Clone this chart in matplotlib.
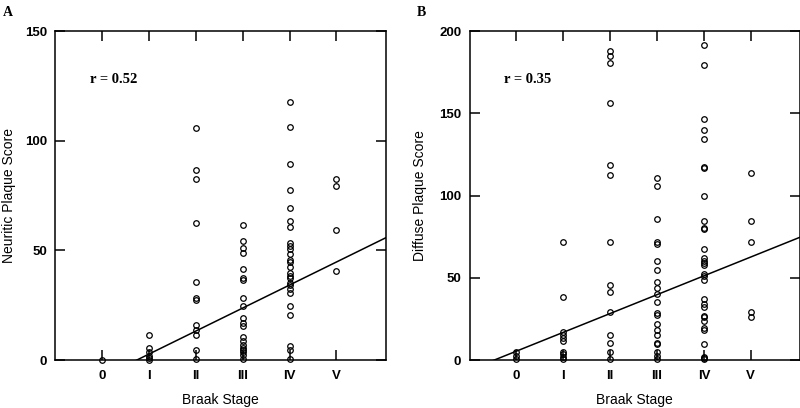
import matplotlib.pyplot as plt
import numpy as np

# Braak stage categories
stages = ['0', 'I', 'II', 'III', 'IV', 'V']

# Panel A - neuritic plaque scores per stage
neuritic = [
    [0],
    [11.5, 5.6, 3.8, 2, 1, 0],
    [106, 86.5, 82.5, 62.5, 35.5, 28.5, 27.5, 16, 13.5, 11.5, 4.5, 0.5],
    [61.5, 54.5, 51, 49, 41.5, 37.5, 36.5, 28.5, 24.5, 19, 17, 15.5, 10.5,
     8.5, 7, 5.5, 4.5, 3.5, 2.5, 0.5],
    [117.5, 106.5, 89.5, 77.5, 69.5, 63.5, 60.5, 53.5, 52, 50.5, 48.5, 45.5,
     44.5, 42.5, 39.5, 38.5, 37.5, 35, 34, 32.5, 30.5, 24.5, 20.5, 6.5, 4.5, 0.5],
    [82.5, 79.5, 59.5, 40.5],
]

# Panel B - diffuse plaque scores per stage
diffuse = [
    [5, 2.5, 0.5],
    [71.5, 38.5, 17, 15.5, 13.5, 11.5, 5, 3.5, 2, 0.5],
    [188, 185, 180.5, 156.5, 118.5, 112.5, 71.5, 45.5, 41.5, 29.5, 15, 10.5, 5, 0.5],
    [110.5, 106, 85.5, 71.5, 70.5, 60.5, 54.5, 47.5, 44, 40, 35.5, 28.5, 27.5,
     22, 18, 15, 10.5, 9.5, 5, 2.5, 0.5],
    [191.5, 179.5, 146.5, 140, 134.5, 117.5, 116.5, 99.5, 84.5, 80.5, 79.5, 67.5,
     62, 60.5, 59, 57.5, 52.5, 51, 48.5, 37, 34, 32, 27, 26, 23.5, 19.5, 18.5,
     9.5, 2, 1, 0.5],
    [113.5, 84.5, 71.5, 29, 26],
]

# regression lines (slope, intercept)
fit_a = (10.5, -7.8)
fit_b = (11.45, 5.4)

panels = [
    ('A', neuritic, fit_a, 'r = 0.52', 'Neuritic Plaque Score', 150, [0, 50, 100, 150]),
    ('B', diffuse, fit_b, 'r = 0.35', 'Diffuse Plaque Score', 200, [0, 50, 100, 150, 200]),
]

fig = plt.figure(figsize=(8, 4.08), dpi=100)
lefts = [0.069, 0.587]
ylab_x = [-0.118, -0.13]

for (letter, data, fit, rtext, ylab, ymax, yticks), left, lx in zip(panels, lefts, ylab_x):
    ax = fig.add_axes([left, 0.1176, 0.413, 0.806])
    for i, vals in enumerate(data):
        ax.plot([i] * len(vals), vals, 'o', mfc='none', mec='black', ms=4, mew=0.9,
                clip_on=False, zorder=3)
    xs = np.array([-1, 6.05])
    ax.plot(xs, fit[0] * xs + fit[1], color='black', lw=1.1)
    ax.set_xlim(-1, 6.05)
    ax.set_ylim(0, ymax)
    ax.set_xticks(range(len(stages)))
    ax.set_xticklabels(stages)
    ax.set_yticks(yticks)
    ax.tick_params(direction='in', length=7, width=1.1, top=True, right=True,
                   labelsize=9.5, pad=6)
    ax.tick_params(axis='x', pad=7.5)
    for lab in ax.get_xticklabels() + ax.get_yticklabels():
        lab.set_fontweight('bold')
        lab.set_family('Liberation Sans')
    for sp in ax.spines.values():
        sp.set_linewidth(1.1)
    ax.set_xlabel('Braak Stage', family='Liberation Sans', fontsize=10)
    ax.set_ylabel(ylab, family='Liberation Sans', fontsize=10)
    ax.xaxis.set_label_coords(0.5, -0.1)
    ax.yaxis.set_label_coords(lx, 0.5)
    ax.text(0.105, 0.854, rtext, transform=ax.transAxes, family='Liberation Serif',
            fontweight='bold', fontsize=10.5, va='center')
    fig.text(left - 0.066, 0.985, letter, family='Liberation Serif', fontweight='bold',
             fontsize=10, va='top')

fig.savefig('out.png', dpi=100)
